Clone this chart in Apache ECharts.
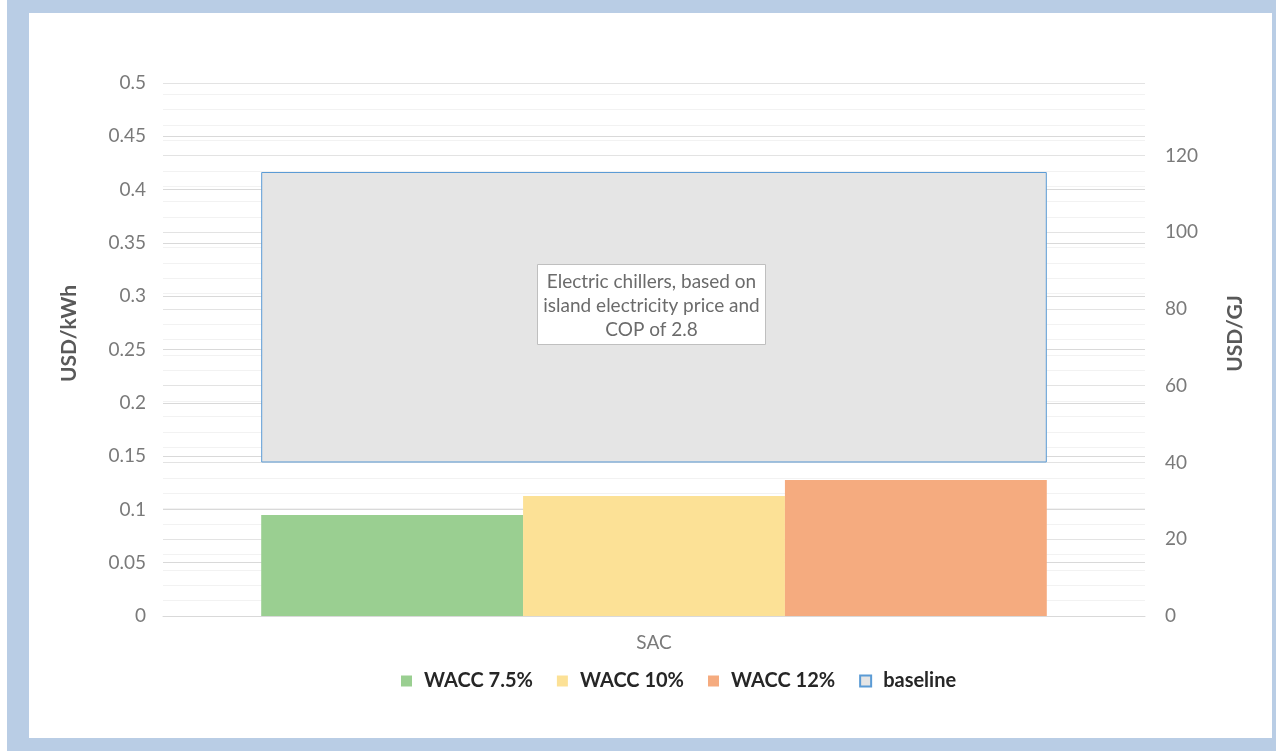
<!DOCTYPE html>
<html>
<head>
<meta charset="utf-8">
<script src="https://cdn.jsdelivr.net/npm/echarts@6/dist/echarts.min.js"></script>
<style>
  html, body { margin: 0; padding: 0; background: #ffffff; }
  .frame { position: absolute; left: 7px; top: 0; width: 1269px; height: 751px; background: #b9cde5; }
  .inner { position: absolute; left: 29px; top: 13px; width: 1243px; height: 725px; background: #ffffff; }
  #main { position: absolute; left: 0; top: 0; width: 1276px; height: 751px; }
</style>
</head>
<body>
<div class="frame"></div>
<div class="inner"></div>
<div id="main"></div>
<script>
// data
var categories = ["SAC"];
var wacc75 = [0.0947];
var wacc10 = [0.1126];
var wacc12 = [0.1276];
var baselineLow = [0.144];
var baselineHigh = [0.4165];
var leftTicks = { min: 0, max: 0.5, interval: 0.05 };
var rightTicks = { min: 0, max: 0.5 / 0.0036, interval: 20 };

var chart = echarts.init(document.getElementById("main"));

var font = "Lato";
var labelColor = "#7a7a7a";

chart.setOption({
  animation: false,
  textStyle: { fontFamily: font },
  grid: { left: 163, right: 131, top: 83, bottom: 135, containLabel: false, outerBoundsMode: "none" },
  legend: {
    bottom: 55,
    left: 396,
    itemWidth: 11,
    itemHeight: 11,
    itemGap: 24,
    icon: "rect",
    data: ["WACC 7.5%", "WACC 10%", "WACC 12%", "baseline"],
    textStyle: { fontFamily: font, fontSize: 20, fontWeight: "bold", color: "#262626", padding: [0, 0, 0, 7] }
  },
  xAxis: [
    {
      type: "category",
      data: categories,
      axisTick: { show: false },
      axisLine: { lineStyle: { color: "#d9d9d9", width: 1 } },
      axisLabel: { color: labelColor, fontSize: 19, margin: 17 }
    },
    {
      type: "category",
      data: categories,
      show: false
    }
  ],
  yAxis: [
    {
      type: "value",
      min: leftTicks.min,
      max: leftTicks.max,
      interval: leftTicks.interval,
      name: "USD/kWh",
      nameLocation: "middle",
      nameRotate: 90,
      nameGap: 83,
      nameTextStyle: { fontFamily: font, fontSize: 21, fontWeight: "bold", color: "#595959", padding: [0, 0, 0, 32] },
      axisLabel: { color: labelColor, fontSize: 19, margin: 17 },
      splitLine: { lineStyle: { color: "#d9d9d9", width: 1 } },
      axisLine: { show: false },
      axisTick: { show: false }
    },
    {
      type: "value",
      position: "right",
      min: rightTicks.min,
      max: rightTicks.max,
      interval: rightTicks.interval,
      name: "USD/GJ",
      nameLocation: "middle",
      nameRotate: 90,
      nameGap: 80,
      nameTextStyle: { fontFamily: font, fontSize: 21, fontWeight: "bold", color: "#595959", padding: [0, 0, 0, 32] },
      axisLabel: { color: labelColor, fontSize: 19, margin: 20, showMaxLabel: false },
      splitLine: { show: true, lineStyle: { color: "#e3e3e3", width: 1 } },
      minorTick: { show: false, splitNumber: 5 },
      minorSplitLine: { show: true, lineStyle: { color: "#f2f2f2", width: 1 } },
      axisLine: { show: false },
      axisTick: { show: false }
    }
  ],
  series: [
    {
      name: "WACC 7.5%",
      type: "bar",
      xAxisIndex: 0,
      data: wacc75,
      barGap: "0%",
      barCategoryGap: "20%",
      itemStyle: { color: "#9acf91" }
    },
    {
      name: "WACC 10%",
      type: "bar",
      xAxisIndex: 0,
      data: wacc10,
      itemStyle: { color: "#fce196" }
    },
    {
      name: "WACC 12%",
      type: "bar",
      xAxisIndex: 0,
      data: wacc12,
      itemStyle: { color: "#f5ab7f" }
    },
    {
      name: "baseBottom",
      type: "bar",
      xAxisIndex: 1,
      stack: "base",
      barCategoryGap: "20%",
      data: baselineLow,
      itemStyle: { color: "transparent" },
      silent: true
    },
    {
      name: "baseline",
      type: "bar",
      xAxisIndex: 1,
      stack: "base",
      data: baselineHigh.map(function (v, i) { return v - baselineLow[i]; }),
      itemStyle: { color: "#e5e5e5", borderColor: "#5b9bd5", borderWidth: 1 }
    }
  ],
  graphic: [
    {
      type: "group",
      left: 537,
      top: 264,
      z: 100,
      children: [
        {
          type: "rect",
          z: 100,
          shape: { x: 0, y: 0, width: 228, height: 80 },
          style: { fill: "#ffffff", stroke: "#bfbfbf", lineWidth: 1 }
        },
        {
          type: "text",
          z: 101,
          x: 114,
          y: 41,
          style: {
            text: "Electric chillers, based on\nisland electricity price and\nCOP of 2.8",
            fontFamily: font,
            fontSize: 19,
            lineHeight: 24,
            fill: "#6b6b6b",
            align: "center",
            verticalAlign: "middle"
          }
        }
      ]
    }
  ]
});
</script>
</body>
</html>
